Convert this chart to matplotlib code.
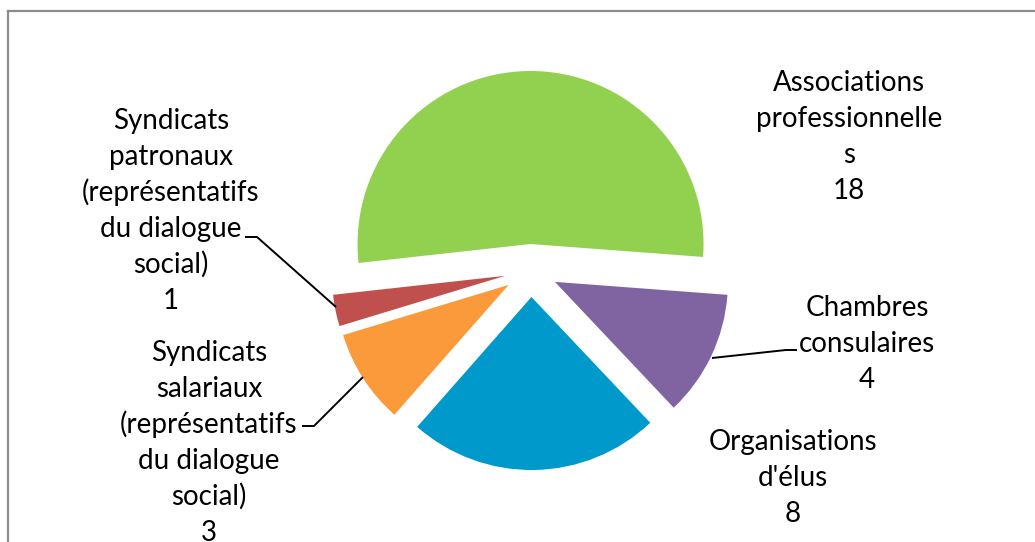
import matplotlib
matplotlib.use("Agg")
import matplotlib.pyplot as plt
from matplotlib.lines import Line2D

# ---- data ----
categories = ["Associations professionnelles", "Chambres consulaires",
              "Organisations d'élus",
              "Syndicats salariaux (représentatifs du dialogue social)",
              "Syndicats patronaux (représentatifs du dialogue social)"]
values = [18, 4, 8, 3, 1]
label_lines = [
    ["Associations", "professionnelle", "s"],
    ["Chambres", "consulaires"],
    ["Organisations", "d'élus"],
    ["Syndicats", "salariaux", "(représentatifs", "du dialogue", "social)"],
    ["Syndicats", "patronaux", "(représentatifs", "du dialogue", "social)"],
]
colors = ["#92D050", "#8064A2", "#0099CC", "#FA9A3A", "#C0504D"]

# ---- layout (pixel space, y downward) ----
W, H = 1035, 542
fig = plt.figure(figsize=(W / 100, H / 100), dpi=100)
ax = fig.add_axes([0, 0, 1, 1])

R = 173
ax.pie(values, colors=colors, startangle=-186.3, counterclock=True,
       center=(531, 270.5), radius=R, explode=[26.5] * len(values),
       wedgeprops=dict(linewidth=0), frame=True)
ax.set_xlim(0, W)
ax.set_ylim(H, 0)
ax.set_aspect("auto")
ax.axis("off")

font = dict(family=["Lato", "DejaVu Sans"], fontsize=20, color="black",
            ha="center", va="baseline")
# label anchors: (x center, first baseline)
anchors = [(849, 91), (867, 316), (793, 450), (209, 361), (171, 129)]
step = 36
for lines, v, (x, y0) in zip(label_lines, values, anchors):
    for i, t in enumerate(lines + [str(v)]):
        ax.text(x, y0 + i * step, t, **font)

# leader lines
lc = dict(color="black", lw=1.4, solid_capstyle="butt")
ax.add_line(Line2D([245, 257, 336], [237, 237, 307], **lc))
ax.add_line(Line2D([302, 314, 363], [426, 426, 377], **lc))
ax.add_line(Line2D([797, 786, 712], [350, 350, 358], **lc))

# chart border (partially visible)
bc = dict(color="#8c8c8c", lw=1.6)
ax.add_line(Line2D([7.5, 7.5], [11, H + 5], **bc))
ax.add_line(Line2D([7.5, W + 5], [11, 11], **bc))

fig.savefig("out.png", dpi=100)
